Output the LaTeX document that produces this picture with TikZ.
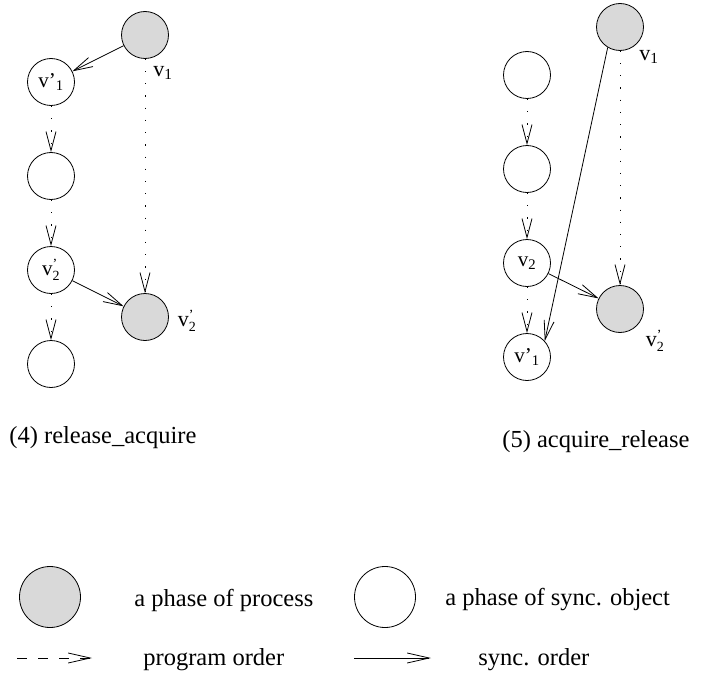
\documentclass[tikz,border=0pt]{standalone}
\usepackage{fontspec}
\setmainfont{Liberation Serif}
\usetikzlibrary{arrows.meta}
\definecolor{phasegray}{HTML}{D9D9D9}
\newcommand{\vp}[1]{v’\textsubscript{#1}}
\newcommand{\vpp}[1]{$\mathrm{v}^{\mbox{\fontsize{14}{14}\selectfont ’}}_{\mbox{\fontsize{14}{14}\selectfont #1}}$}
\newcommand{\vs}[1]{v\textsubscript{#1}}
\begin{document}
\begin{tikzpicture}[x=1pt,y=-1pt,line width=0.8pt,
  phase/.style={circle,draw,minimum size=47pt,inner sep=0pt,font=\fontsize{21}{24}\selectfont},
  proc/.style={phase,fill=phasegray},
  sobj/.style={phase,fill=white},
  bigproc/.style={proc,minimum size=61pt},
  bigsobj/.style={sobj,minimum size=61pt},
  lbl/.style={font=\fontsize{22}{24}\selectfont,inner sep=0pt},
  txt/.style={font=\fontsize{24.5}{28}\selectfont,inner sep=0pt,anchor=west},
  barb/.style={-{Straight Barb[length=19pt,width=10pt]}},
  sync/.style={barb},
  prog/.style={barb,dash pattern=on 1.2pt off 11pt},
  lprog/.style={-{Straight Barb[length=22pt,width=10pt]},dash pattern=on 10pt off 11pt},
  lsync/.style={-{Straight Barb[length=22pt,width=10pt]}}]
\useasboundingbox (0,0) rectangle (706,690);
% ---------- (4) release_acquire ----------
\node[proc] (a1) at (145,35) {};
\node[sobj] (aw1) at (51,82) {\vp{1}};
\node[sobj] (aw2) at (51,176) {};
\node[sobj] (aw3) at (51,270) {\vpp{2}};
\node[sobj] (aw4) at (51,364) {};
\node[proc] (a2) at (145,317) {};
\node[lbl] (la1) at (163,73) {\vs{1}};
\node[lbl] (la2) at (187,321) {\vpp{2}};
\draw[sync] (a1) -- (aw1);
\draw[sync] (aw3) -- (a2);
\draw[prog] (aw1) -- (aw2);
\draw[prog] (aw2) -- (aw3);
\draw[prog] (aw3) -- (aw4);
\draw[prog] (a1) -- (a2);
\node[txt] (cap4) at (9,438) {(4) release\_acquire};
% ---------- (5) acquire_release ----------
\node[proc] (b1) at (620,27) {};
\node[sobj] (bw1) at (527,75) {};
\node[sobj] (bw2) at (527,169) {};
\node[sobj] (bw3) at (527,263) {\vs{2}};
\node[sobj] (bw4) at (527,357) {\vp{1}};
\node[proc] (b2) at (620,309) {};
\node[lbl] (lb1) at (649,57) {\vs{1}};
\node[lbl] (lb2) at (655,341) {\vpp{2}};
\draw[sync] (b1.239) -- (bw4.42);
\draw[sync] (bw3) -- (b2);
\draw[prog] (bw1) -- (bw2);
\draw[prog] (bw2) -- (bw3);
\draw[prog] (bw3) -- (bw4);
\draw[prog] (b1) -- (b2);
\node[txt] (cap5) at (502,442) {(5) acquire\_release};
% ---------- legend ----------
\node[bigproc] (lgp) at (50,597) {};
\node[txt] (tgp) at (134,600) {a phase of process};
\node[bigsobj] (lgs) at (385,597) {};
\node[txt] (tgs) at (445,600) {a phase of sync. object};
\coordinate (pa) at (17,658);
\coordinate (pb) at (92,658);
\draw[lprog] (pa) -- (pb);
\node[txt] (tpo) at (143,660) {program order};
\coordinate (sa) at (354,658);
\coordinate (sb) at (431,658);
\draw[lsync] (sa) -- (sb);
\node[txt] (tso) at (478,660) {sync. order};
\end{tikzpicture}
\end{document}
